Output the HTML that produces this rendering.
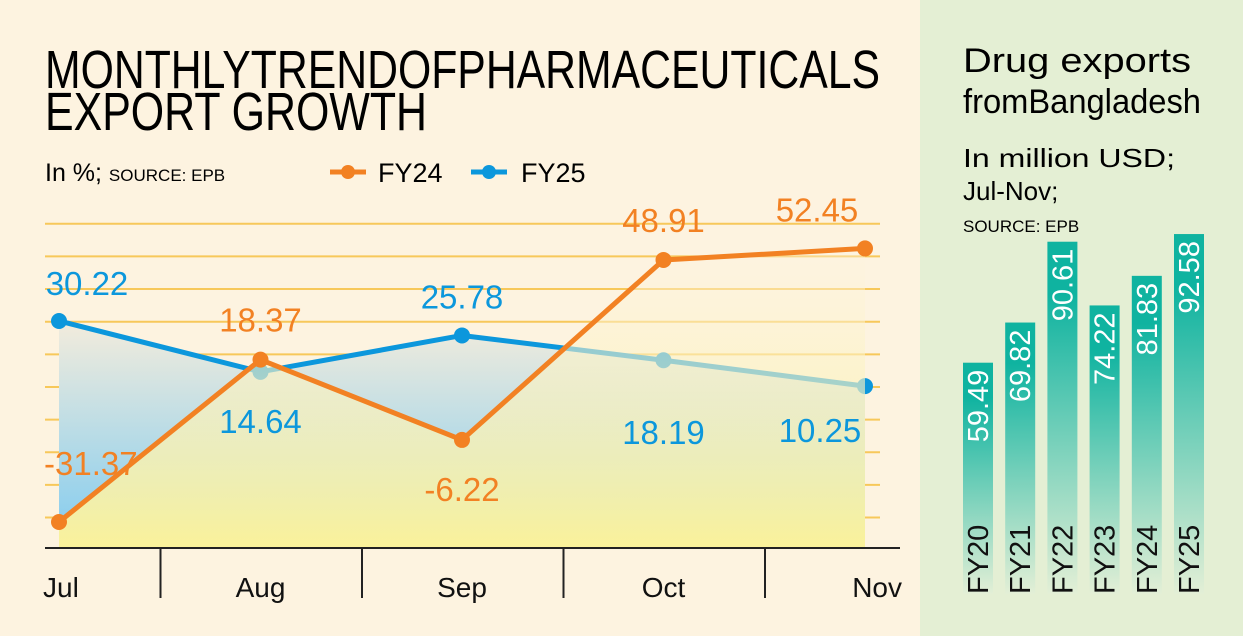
<!DOCTYPE html>
<html><head><meta charset="utf-8"><style>
html,body{margin:0;padding:0;width:1243px;height:636px;overflow:hidden;background:#fdf3e0}
svg{display:block;font-family:"Liberation Sans",sans-serif}
</style></head><body>
<svg id="c" width="1243" height="636" viewBox="0 0 1243 636">
<defs>
<linearGradient id="gb" x1="0" y1="0" x2="0" y2="1"><stop offset="0" stop-color="#f3ecdc"/><stop offset="1" stop-color="#7fcbf0"/></linearGradient>
<linearGradient id="gy" x1="0" y1="0" x2="0" y2="1"><stop offset="0" stop-color="#fdf3e0" stop-opacity="0.35"/><stop offset="1" stop-color="#fbf29a"/></linearGradient>
<linearGradient id="gt" x1="0" y1="0" x2="0" y2="1"><stop offset="0.15" stop-color="#0fb3a0"/><stop offset="1" stop-color="#e3efd6"/></linearGradient>
</defs>
<rect x="920" y="0" width="323" height="636" fill="#e4efd4"/>
<text x="45" y="88" font-size="54" textLength="835" lengthAdjust="spacingAndGlyphs">MONTHLYTRENDOFPHARMACEUTICALS</text>
<text x="45" y="130" font-size="54" textLength="382" lengthAdjust="spacingAndGlyphs">EXPORT GROWTH</text>
<text x="45" y="181" font-size="25">In %; <tspan font-size="17">SOURCE: EPB</tspan></text>
<g><line x1="330" y1="172" x2="366" y2="172" stroke="#f28123" stroke-width="5"/><circle cx="348" cy="172" r="7" fill="#f28123"/><text x="378" y="182" font-size="27">FY24</text></g>
<g><line x1="471" y1="172" x2="507" y2="172" stroke="#0c97dc" stroke-width="5"/><circle cx="489" cy="172" r="7" fill="#0c97dc"/><text x="521" y="182" font-size="27">FY25</text></g>
<g id="grid"></g><g id="plot"></g><g id="axis"></g>
<text x="963" y="72" font-size="34" textLength="228" lengthAdjust="spacingAndGlyphs">Drug exports</text>
<text x="963" y="113" font-size="34" textLength="238" lengthAdjust="spacingAndGlyphs">fromBangladesh</text>
<text x="963" y="167" font-size="26" textLength="212" lengthAdjust="spacingAndGlyphs">In million USD;</text>
<text x="963" y="200" font-size="26">Jul-Nov;</text>
<text x="963" y="232" font-size="17">SOURCE: EPB</text>
<g id="bars"></g>
</svg>
<script>
const months=["Jul","Aug","Sep","Oct","Nov"];
const fy24=[-31.37,18.37,-6.22,48.91,52.45];
const fy25=[30.22,14.64,25.78,18.19,10.25];
const gridTicks=[-30,-20,-10,0,10,20,30,40,50,60];
const barCats=["FY20","FY21","FY22","FY23","FY24","FY25"];
const barVals=[59.49,69.82,90.61,74.22,81.83,92.58];

const NS="http://www.w3.org/2000/svg";
function mk(tag,attrs,parent,txt){const e=document.createElementNS(NS,tag);for(const k in attrs)e.setAttribute(k,attrs[k]);if(txt!==undefined)e.textContent=txt;parent.appendChild(e);return e;}
const x=i=>59+i*201.5;
const y=v=>522-(v+31.37)*3.264;
const base=548;
const grid=document.getElementById('grid'),plot=document.getElementById('plot'),axis=document.getElementById('axis'),bars=document.getElementById('bars');
gridTicks.forEach(t=>{const l=mk('line',{x1:45,x2:880,y1:y(t),y2:y(t),stroke:'#f7c85a','stroke-width':2},grid);

});
function area(vals,fill,name){const pts=vals.map((v,i)=>x(i)+','+y(v)).join(' ');const p=mk('polygon',{points:x(0)+','+base+' '+pts+' '+x(vals.length-1)+','+base,fill:fill},plot);

}
function line(vals,col,name){const p=mk('polyline',{points:vals.map((v,i)=>x(i)+','+y(v)).join(' '),fill:'none',stroke:col,'stroke-width':5,'stroke-linejoin':'round'},plot);


vals.forEach((v,i)=>{const c=mk('circle',{cx:x(i),cy:y(v),r:8,fill:col},plot);

});}
area(fy25,'url(#gb)','fy25-area');
line(fy25,'#0c97dc','fy25-line');
area(fy24,'url(#gy)','fy24-area');
line(fy24,'#f28123','fy24-line');
// value labels (offsets are layout, not data)
const off24=[[-15,-47],[0,-28],[0,61],[0,-28],[-48,-27]];
const off25=[[28,-26],[0,61],[0,-27],[0,84],[-45,56]];
fy24.forEach((v,i)=>{const t=mk('text',{x:i==0?44:x(i)+off24[i][0],y:y(v)+off24[i][1],'font-size':33,fill:'#f28123','text-anchor':i==0?'start':'middle'},plot,v.toFixed(2));

});
fy25.forEach((v,i)=>{const t=mk('text',{x:x(i)+off25[i][0],y:y(v)+off25[i][1],'font-size':33,fill:'#0c97dc','text-anchor':'middle'},plot,v.toFixed(2));

});
const bl=mk('line',{x1:45,x2:900,y1:base,y2:base,stroke:'#222','stroke-width':2},axis);


months.forEach((m,i)=>{if(i>0){const s=mk('line',{x1:x(i)-100,x2:x(i)-100,y1:base,y2:598,stroke:'#222','stroke-width':2},axis);

}
const anchor=i==0?'start':(i==months.length-1?'end':'middle');const tx=i==0?43:(i==months.length-1?902:x(i));
const t=mk('text',{x:tx,y:597,'font-size':28,'text-anchor':anchor,fill:'#111'},axis,m);

});
// bars
const bx=i=>963+i*42.2, by=v=>594-v*3.888;
barVals.forEach((v,i)=>{const r=mk('rect',{x:bx(i),y:by(v),width:30,height:594-by(v),fill:'url(#gt)'},bars);


const cx=bx(i)+25;
const vt=mk('text',{x:cx,y:by(v)+7,'font-size':29,fill:'#fff','text-anchor':'end',transform:'rotate(-90 '+cx+' '+(by(v)+7)+')'},bars,v.toFixed(2));


const ct=mk('text',{x:cx,y:594,'font-size':29,fill:'#111','text-anchor':'start',transform:'rotate(-90 '+cx+' 594)'},bars,barCats[i]);

});
</script>
</body></html>
